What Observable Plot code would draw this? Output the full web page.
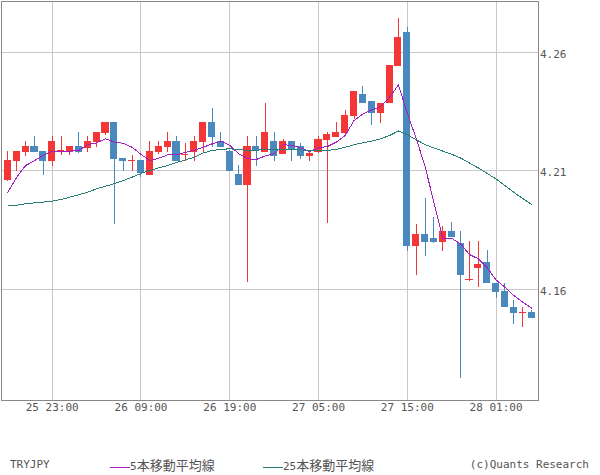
<!DOCTYPE html>
<html><head><meta charset="utf-8">
<script src="https://cdn.jsdelivr.net/npm/d3@7"></script>
<script src="https://cdn.jsdelivr.net/npm/@observablehq/plot@0.6"></script>
<style>
body{margin:0;background:#fff;}
#wrap{position:relative;width:600px;height:475px;font-family:"DejaVu Sans Mono",monospace;font-size:11px;color:#555;overflow:hidden;}
#chart{position:absolute;left:0;top:0;}
.lg{position:absolute;top:458px;height:14px;line-height:14px;white-space:nowrap;}
.k{font-family:"Noto Sans CJK JP";font-size:13px;}
.sw{display:inline-block;width:20px;height:1px;vertical-align:middle;margin-top:1px;}
</style></head><body>
<div id="wrap"><div id="chart"></div>
<div class="lg" style="left:10px">TRYJPY</div>
<div class="lg" style="left:110px"><span class="sw" style="background:#a020c0"></span>5<span class="k">本移動平均線</span></div>
<div class="lg" style="left:263px"><span class="sw" style="background:#2b7d77"></span>25<span class="k">本移動平均線</span></div>
<div class="lg" style="right:11px">(c)Quants Research</div>
</div>
<script>
const times = [
 "25 18:00","25 19:00","25 20:00","25 21:00","25 22:00","25 23:00",
 "26 00:00","26 01:00","26 02:00","26 03:00","26 04:00","26 05:00","26 06:00","26 07:00","26 08:00","26 09:00",
 "26 10:00","26 11:00","26 12:00","26 13:00","26 14:00","26 15:00","26 16:00","26 17:00","26 18:00","26 19:00",
 "26 20:00","26 21:00","26 22:00","26 23:00",
 "27 00:00","27 01:00","27 02:00","27 03:00","27 04:00","27 05:00","27 06:00","27 07:00","27 08:00","27 09:00",
 "27 10:00","27 11:00","27 12:00","27 13:00","27 14:00","27 15:00","27 16:00","27 17:00","27 18:00","27 19:00",
 "27 20:00","27 21:00","27 22:00","27 23:00",
 "28 00:00","28 01:00","28 02:00","28 03:00","28 04:00","28 05:00"
];
const open = [4.2059,4.2139,4.2178,4.2202,4.2181,4.2140,4.2178,4.2178,4.2202,4.2193,
 4.2221,4.2259,4.2304,4.2153,4.2140,4.2143,4.2080,4.2177,4.2199,4.2224,
 4.2163,4.2177,4.2219,4.2304,4.2224,4.2181,4.2084,4.2039,4.2202,4.2177,
 4.2224,4.2169,4.2224,4.2202,4.2160,4.2178,4.2228,4.2242,4.2259,4.2329,
 4.2422,4.2392,4.2340,4.2382,4.2541,4.2684,4.1782,4.1831,4.1816,4.1799,
 4.1844,4.1795,4.1638,4.1689,4.1715,4.1624,4.1591,4.1525,4.1500,4.1503];
const high = [4.2181,4.2181,4.2222,4.2245,4.2181,4.2245,4.2245,4.2202,4.2261,4.2245,
 4.2261,4.2304,4.2304,4.2153,4.2165,4.2143,4.2224,4.2224,4.2261,4.2245,
 4.2216,4.2245,4.2304,4.2363,4.2261,4.2185,4.2122,4.2245,4.2245,4.2385,
 4.2261,4.2232,4.2224,4.2214,4.2181,4.2245,4.2261,4.2304,4.2354,4.2434,
 4.2455,4.2392,4.2382,4.2544,4.2743,4.2705,4.1874,4.1984,4.1902,4.1865,
 4.1882,4.1844,4.1802,4.1802,4.1764,4.1624,4.1624,4.1553,4.1525,4.1510];
const low = [4.2054,4.2098,4.2160,4.2178,4.2080,4.2119,4.2165,4.2165,4.2172,4.2178,
 4.2199,4.2250,4.1872,4.2098,4.2098,4.2070,4.2080,4.2169,4.2177,4.2139,
 4.2139,4.2139,4.2177,4.2199,4.2199,4.2098,4.2039,4.1630,4.2118,4.2177,
 4.2139,4.2169,4.2140,4.2149,4.2140,4.2172,4.1879,4.2242,4.2245,4.2315,
 4.2382,4.2291,4.2301,4.2382,4.2541,4.1761,4.1659,4.1740,4.1794,4.1761,
 4.1818,4.1223,4.1635,4.1609,4.1624,4.1560,4.1522,4.1451,4.1441,4.1479];
const close = [4.2143,4.2181,4.2202,4.2178,4.2140,4.2224,4.2186,4.2202,4.2178,4.2224,
 4.2261,4.2304,4.2149,4.2140,4.2144,4.2090,4.2181,4.2202,4.2224,4.2139,
 4.2167,4.2224,4.2304,4.2242,4.2199,4.2098,4.2039,4.2202,4.2186,4.2261,
 4.2160,4.2224,4.2189,4.2160,4.2172,4.2231,4.2253,4.2261,4.2333,4.2434,
 4.2382,4.2340,4.2382,4.2544,4.2663,4.1782,4.1831,4.1799,4.1799,4.1845,
 4.1818,4.1660,4.1642,4.1705,4.1624,4.1588,4.1522,4.1500,4.1504,4.1479];
const ma5 = [4.2010,4.2073,4.2122,4.2143,4.2165,4.2183,4.2183,4.2183,4.2186,4.2210,
 4.2218,4.2235,4.2221,4.2216,4.2199,4.2169,4.2143,4.2153,4.2167,4.2167,
 4.2178,4.2186,4.2199,4.2214,4.2225,4.2207,4.2172,4.2151,4.2148,4.2163,
 4.2172,4.2210,4.2207,4.2197,4.2181,4.2197,4.2202,4.2221,4.2249,4.2312,
 4.2340,4.2357,4.2371,4.2410,4.2462,4.2342,4.2236,4.2118,4.1966,4.1813,
 4.1815,4.1792,4.1747,4.1729,4.1691,4.1640,4.1609,4.1574,4.1546,4.1521];
const ma25 = [4.1952,4.1955,4.1961,4.1965,4.1968,4.1972,4.1979,4.1989,4.1999,4.2010,
 4.2024,4.2035,4.2046,4.2059,4.2073,4.2089,4.2101,4.2113,4.2122,4.2135,
 4.2146,4.2157,4.2175,4.2186,4.2190,4.2193,4.2189,4.2186,4.2186,4.2192,
 4.2189,4.2189,4.2189,4.2188,4.2186,4.2186,4.2186,4.2190,4.2199,4.2210,
 4.2218,4.2225,4.2235,4.2249,4.2268,4.2252,4.2231,4.2211,4.2196,4.2183,
 4.2170,4.2154,4.2133,4.2112,4.2089,4.2065,4.2038,4.2009,4.1983,4.1958];
const xTickLabels = ["25 23:00","26 09:00","26 19:00","27 05:00","27 15:00","28 01:00"];
const yTicks = [4.16, 4.21, 4.26];

const RED = "#f53636", BLUE = "#4a89be", PURPLE = "#a020c0", TEAL = "#2b7d77";
const data = times.map((t, i) => ({i, t, o: open[i], h: high[i], l: low[i], c: close[i], m5: ma5[i], m25: ma25[i]}));
const xTicks = xTickLabels.map(s => times.indexOf(s));
const col = d => d.c >= d.o ? RED : BLUE;

const chart = Plot.plot({
  width: 600, height: 420,
  marginLeft: 0.5, marginTop: 0.5, marginRight: 62.5, marginBottom: 20.5,
  x: {type: "linear", domain: [-0.77, 59.72], label: null},
  y: {domain: [4.11337, 4.28159], label: null},
  color: {type: "identity"},
  style: {fontFamily: "DejaVu Sans Mono", fontSize: "11px", color: "#555", background: "#fff", overflow: "visible"},
  marks: [
    Plot.gridX(xTicks, {stroke: "#c8c8c8", strokeOpacity: 1, shapeRendering: "crispEdges"}),
    Plot.gridY(yTicks, {stroke: "#c8c8c8", strokeOpacity: 1, shapeRendering: "crispEdges"}),
    Plot.ruleX(data, {x: "i", y1: "l", y2: "h", stroke: col, shapeRendering: "crispEdges"}),
    Plot.rect(data, {x1: d => d.i - 0.4, x2: d => d.i + 0.4, y1: "o", y2: "c", fill: col, shapeRendering: "crispEdges"}),
    Plot.line(data, {x: "i", y: "m5", stroke: PURPLE, strokeWidth: 1, shapeRendering: "crispEdges"}),
    Plot.line(data, {x: "i", y: "m25", stroke: TEAL, strokeWidth: 1, shapeRendering: "crispEdges"}),
    Plot.frame({stroke: "#888", shapeRendering: "crispEdges"}),
    Plot.axisX(xTicks, {label: null, tickSize: 0, tickPadding: 3, tickFormat: i => times[i], fill: "#555"}),
    Plot.axisY(yTicks, {label: null, anchor: "right", tickSize: 0, tickPadding: 2, tickFormat: d => d.toFixed(2), fill: "#555", dy: 2})
  ]
});
document.getElementById("chart").appendChild(chart);
</script>
</body></html>
